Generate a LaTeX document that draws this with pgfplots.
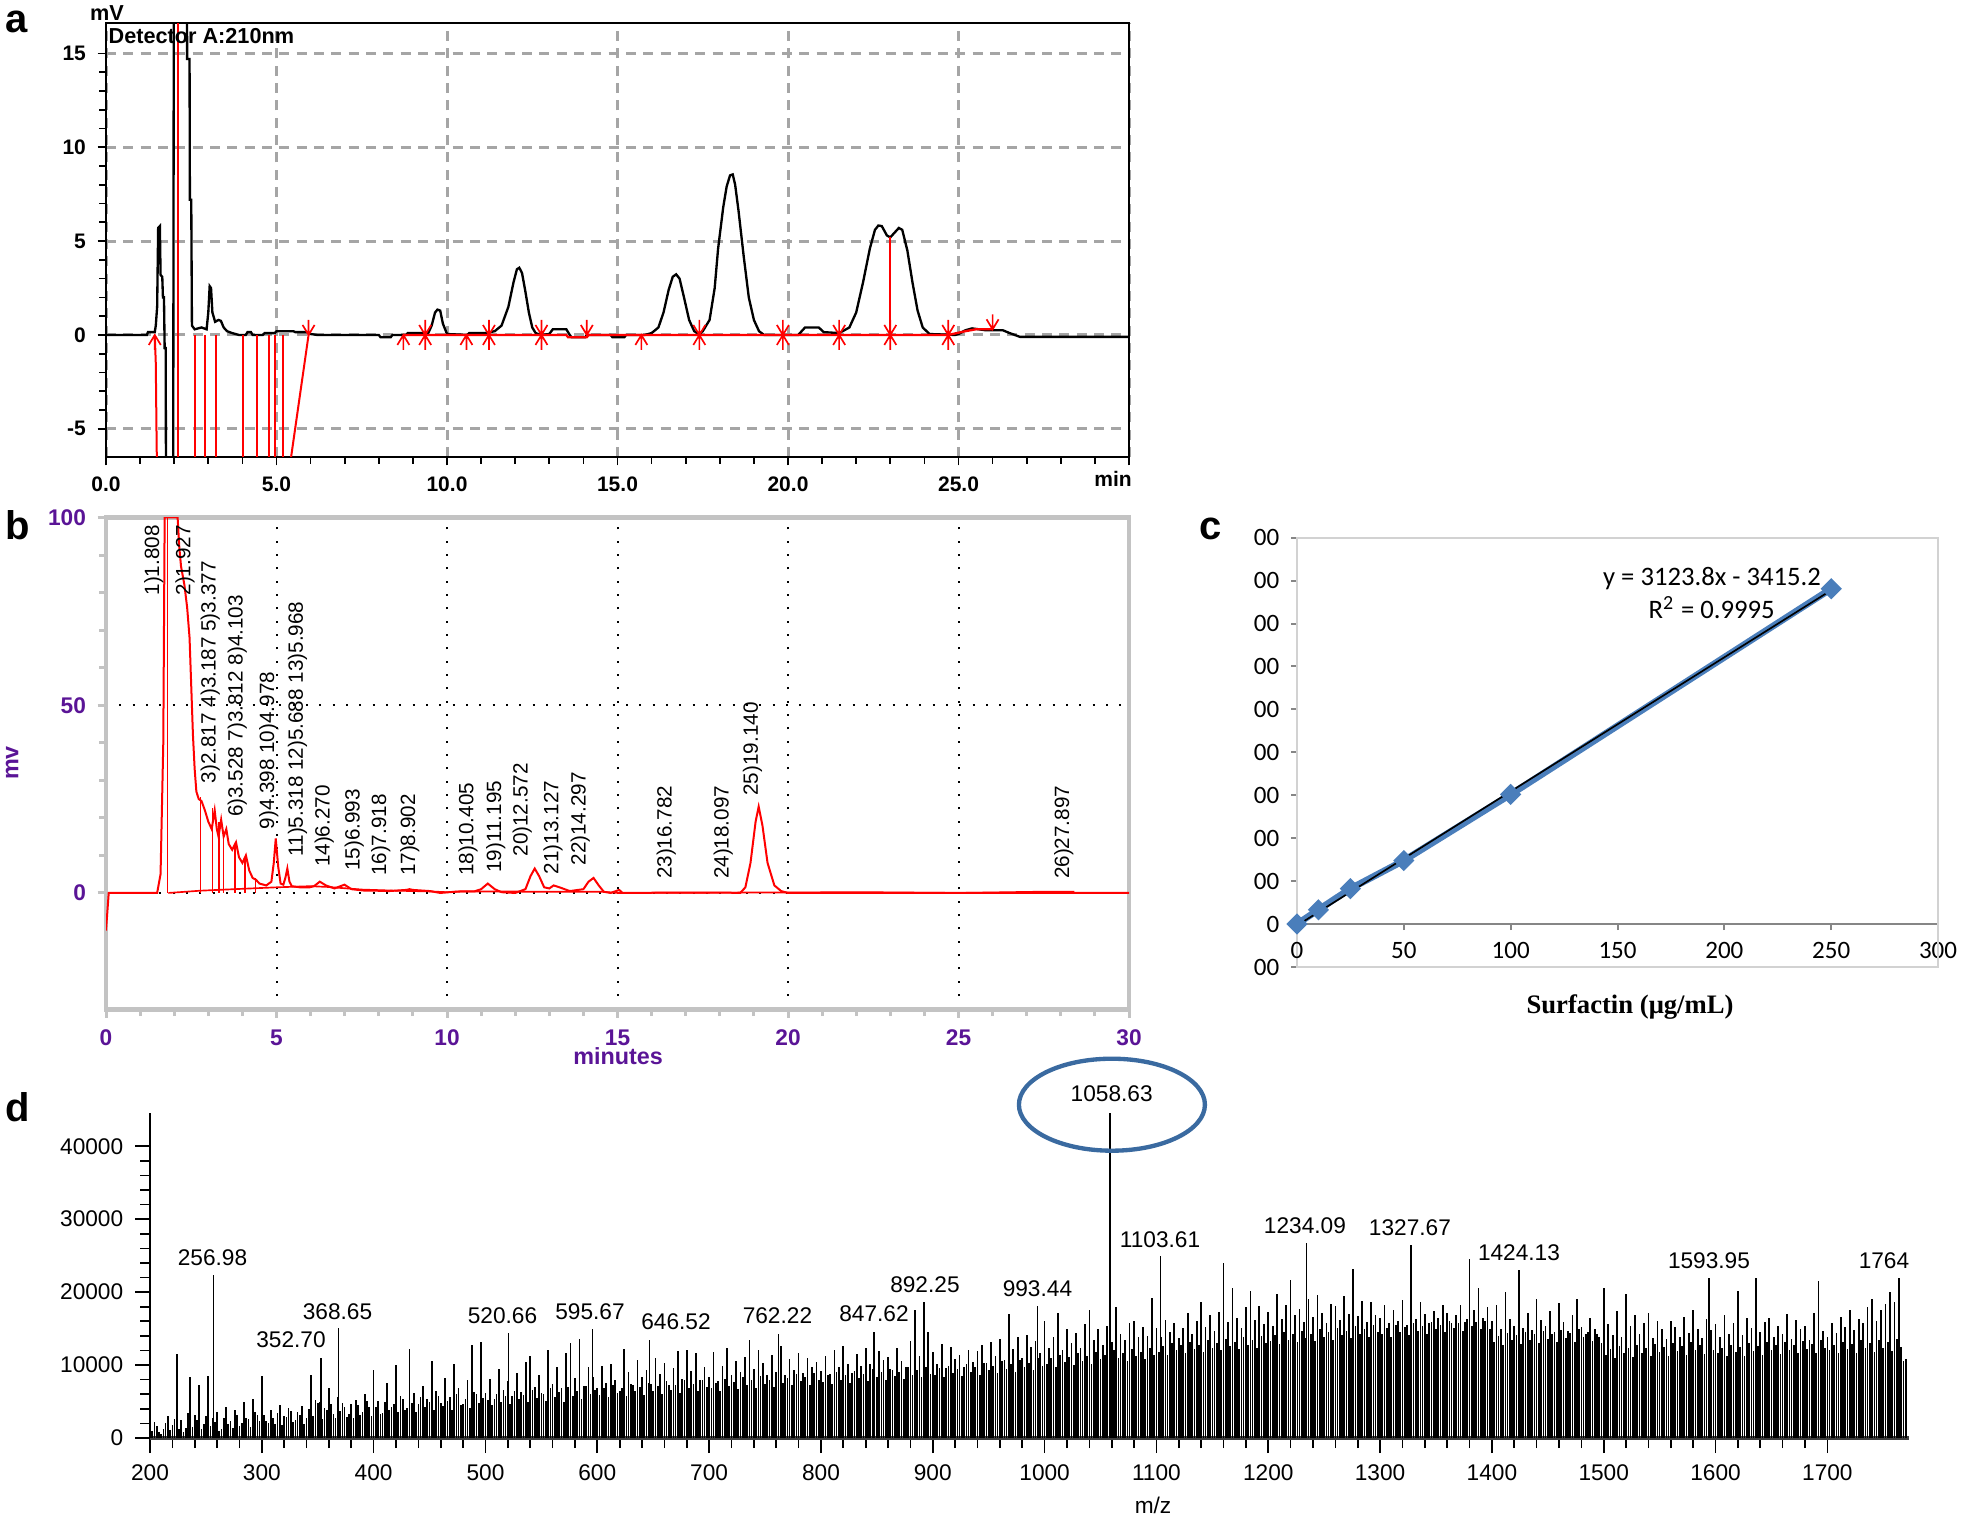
\documentclass[border=0pt]{standalone}
\usepackage{pgfplots}
\pgfplotsset{compat=1.18}
\usepackage{fontspec}
\setmainfont{Liberation Sans}
\newfontfamily\carlito{Carlito}
\newfontfamily\libserif{Liberation Serif}
\definecolor{bpurple}{RGB}{90,20,150}
\definecolor{cblue}{RGB}{74,126,187}
\definecolor{dellipse}{RGB}{58,106,160}
\definecolor{gridgray}{RGB}{165,165,165}
\definecolor{framegray}{RGB}{195,195,195}
\definecolor{axgray}{RGB}{134,134,134}
\definecolor{cframe}{RGB}{210,210,210}
\pgfdeclareplotmark{arrup}{%
  \pgfpathmoveto{\pgfpoint{0pt}{-4.5pt}}\pgfpathlineto{\pgfpoint{0pt}{0pt}}%
  \pgfpathmoveto{\pgfpoint{-1.8pt}{-3pt}}\pgfpathlineto{\pgfpoint{0pt}{0pt}}\pgfpathlineto{\pgfpoint{1.8pt}{-3pt}}%
  \pgfusepathqstroke}
\pgfdeclareplotmark{arrdn}{%
  \pgfpathmoveto{\pgfpoint{0pt}{4.5pt}}\pgfpathlineto{\pgfpoint{0pt}{0pt}}%
  \pgfpathmoveto{\pgfpoint{-1.8pt}{3pt}}\pgfpathlineto{\pgfpoint{0pt}{0pt}}\pgfpathlineto{\pgfpoint{1.8pt}{3pt}}%
  \pgfusepathqstroke}
\begin{document}
\begin{tikzpicture}[x=1pt,y=1pt]
\useasboundingbox (0,0) rectangle (588.3,455.4);

% ---------------- panel a ----------------
\begin{axis}[at={(31.8pt,318.3pt)}, anchor=south west, scale only axis,
 width=306.9pt, height=130.1pt,
 xmin=0, xmax=30, ymin=-6.5, ymax=16.6, clip mode=individual,
 axis line style={black, line width=0.7pt},
 xtick={0,5,...,30}, xticklabels={0.0,5.0,10.0,15.0,20.0,25.0,{}},
 ytick={-5,0,5,10,15}, yticklabels={-5,0,5,10,15},
 minor x tick num=4, minor y tick num=4,
 tick align=outside, xtick pos=bottom, ytick pos=left,
 major tick length=2.5pt, minor tick length=2pt,
 tick style={black, line width=0.5pt},
 xmajorgrids, ymajorgrids,
 major grid style={gridgray, line width=0.9pt, dash pattern=on 3pt off 2.2pt},
 ticklabel style={font=\fontsize{6.3}{7}\selectfont\bfseries},
]
\addplot[black, line width=0.7pt] coordinates {
(0,0)(1.2,0)(1.23,0.15)(1.43,0.15)(1.46,0.5)(1.5,1.5)(1.53,5.7)(1.58,5.8)(1.6,3.2)(1.65,3.1)
(1.67,2.0)(1.7,2.0)(1.72,-0.7)(1.75,-0.7)(1.76,-8)(1.97,-8)(1.99,20)(2.37,20)(2.38,14.7)(2.45,14.7)
(2.46,7.2)(2.5,7.2)(2.52,0.5)(2.6,0.3)(2.8,0.4)(2.95,0.3)(3.0,1.2)(3.04,2.6)(3.08,2.5)(3.12,1.2)
(3.2,0.7)(3.3,0.8)(3.37,0.75)(3.45,0.4)(3.55,0.2)(3.7,0.1)(3.9,0)(4.1,0)(4.15,0.15)(4.25,0.15)
(4.3,0)(4.6,0)(4.65,0.1)(4.95,0.1)(5.0,0.2)(5.5,0.2)(5.55,0.15)(5.9,0.15)(6.0,0.05)(6.2,0)
(8.0,0)(8.05,-0.12)(8.35,-0.12)(8.4,0)(8.8,0)(8.85,0.1)(9.45,0.1)(9.55,0.5)(9.65,1.2)(9.72,1.35)
(9.8,1.3)(9.88,0.6)(10.0,0.05)(10.6,0)(10.65,0.1)(11.1,0.1)(11.4,0.2)(11.6,0.5)(11.8,1.5)(11.95,2.8)
(12.05,3.5)(12.12,3.58)(12.2,3.3)(12.3,2.3)(12.4,1.2)(12.5,0.4)(12.6,0.1)(12.75,0)(13.0,0.05)(13.1,0.3)
(13.5,0.3)(13.6,0)(13.65,-0.12)(14.05,-0.12)(14.1,0)(14.8,0)(14.85,-0.12)(15.2,-0.12)(15.25,0)(15.8,0)
(16.0,0.1)(16.2,0.4)(16.35,1.2)(16.5,2.4)(16.62,3.1)(16.72,3.23)(16.82,3.0)(16.95,2.0)(17.1,0.8)(17.25,0.2)
(17.4,0.05)(17.5,0.2)(17.7,0.8)(17.85,2.5)(17.95,4.6)(18.1,6.8)(18.2,7.9)(18.3,8.5)(18.38,8.55)(18.45,8.0)
(18.55,6.6)(18.7,4.2)(18.85,2.0)(19.0,0.8)(19.15,0.2)(19.3,0)(20.3,0)(20.35,0.1)(20.5,0.4)(20.9,0.4)
(21.05,0.15)(21.5,0.1)(21.8,0.4)(22.0,1.2)(22.2,2.8)(22.4,4.6)(22.55,5.6)(22.65,5.83)(22.75,5.8)(22.9,5.3)
(23.0,5.2)(23.1,5.4)(23.25,5.7)(23.35,5.6)(23.5,4.5)(23.65,2.8)(23.8,1.3)(23.95,0.4)(24.15,0.05)(24.9,0)
(25.0,0.05)(25.2,0.25)(25.4,0.35)(25.6,0.3)(25.8,0.25)(26.3,0.25)(26.5,0.1)(26.8,-0.1)(30,-0.1)};
\addplot[red, line width=0.7pt] coordinates {(8.72,0)(13.5,0)(13.55,-0.12)(14.1,-0.12)(14.15,0)(24.7,0)(25.2,0.2)(25.5,0.3)(26.0,0.3)};
\addplot[red, line width=0.6pt, ycomb] coordinates {(2.1,20)(23.0,5.2)};
\addplot[red, line width=0.6pt, ycomb] coordinates {(2.1,-8)(2.6,-8)(2.9,-8)(3.22,-8)(4.03,-8)(4.44,-8)(4.78,-8)(4.95,-8)(5.2,-8)};
\addplot[red, line width=0.6pt] coordinates {(1.43,0)(1.46,-1.5)(1.48,-5)(1.5,-8)};
\addplot[red, line width=0.6pt] coordinates {(5.31,-8)(5.94,0)};
\addplot[red, only marks, mark=arrup, line width=0.5pt] coordinates {(1.43,0)(8.72,0)(9.36,0)(10.57,0)(11.23,0)(12.77,0)(15.7,0)(17.4,0)(19.85,0)(21.5,0)(23.0,0)(24.7,0)};
\addplot[red, only marks, mark=arrdn, line width=0.5pt] coordinates {(5.94,0)(9.36,0)(11.23,0)(12.77,0)(14.1,0)(17.4,0)(19.85,0)(21.5,0)(23.0,0)(24.7,0)(26.0,0.3)};
\end{axis}
\node[anchor=west, font=\fontsize{6.5}{7}\selectfont\bfseries, inner sep=0pt] at (32.4,444.6) {Detector A:210nm};
\node[font=\fontsize{6.5}{7}\selectfont\bfseries] at (32.1,451.5) {mV};
\node[font=\fontsize{6.3}{7}\selectfont\bfseries] at (333.9,311.7) {min};

% ---------------- panel b ----------------
\begin{axis}[at={(31.8pt,152.6pt)}, anchor=south west, scale only axis,
 width=306.9pt, height=147.55pt,
 xmin=0, xmax=30, ymin=-31, ymax=100, clip mode=individual,
 axis line style={framegray, line width=1.3pt},
 xtick={0,5,...,30}, xticklabels={0,5,10,15,20,25,30}, minor x tick num=4,
 ytick={0,50,100}, yticklabels={0,50,100}, minor y tick num=4,
 tick align=outside, xtick pos=bottom, ytick pos=left,
 tick style={framegray, line width=0.9pt}, major tick length=2.5pt, minor tick length=2pt,
 xmajorgrids, ymajorgrids,
 major grid style={black, line width=0.6pt, dash pattern=on 0.6pt off 3.4pt},
 ticklabel style={font=\fontsize{6.8}{8}\selectfont\bfseries, text=bpurple},
]
\addplot[red, line width=0.6pt] coordinates {
(0,-10)(0.08,0)(1.5,0)(1.6,5)(1.68,40)(1.72,100)(2.1,100)(2.15,92)(2.2,87)(2.3,82)
(2.38,76)(2.45,68)(2.5,55)(2.55,42)(2.6,33)(2.65,27)(2.72,25)(2.8,24.5)(2.9,22)(3.0,19)
(3.1,17)(3.187,22)(3.25,17)(3.3,15)(3.377,19.5)(3.45,15)(3.528,17)(3.6,13)(3.7,11.5)(3.812,13.5)
(3.9,9.5)(4.0,8)(4.103,10)(4.2,6)(4.3,4)(4.398,3.5)(4.5,2.5)(4.7,2)(4.85,3)(4.92,8)
(4.978,14.5)(5.05,7)(5.12,2.5)(5.2,2.2)(5.26,4)(5.318,6.5)(5.38,3)(5.45,1.8)(5.688,1.5)(5.968,1.5)
(6.1,1.8)(6.27,3)(6.45,2)(6.7,1.2)(6.993,2.2)(7.2,1.0)(7.6,0.6)(7.918,0.6)(8.3,0.5)(8.8,0.8)
(8.902,1.0)(9.0,0.8)(9.5,0.5)(9.8,0)(10.2,0.3)(10.405,0.4)(10.8,0.4)(11.0,1.0)(11.195,2.5)(11.4,1.0)
(11.6,0.2)(12.0,0)(12.3,1)(12.45,4.5)(12.572,6.5)(12.7,4.5)(12.85,1.5)(13.0,1.2)(13.127,2)(13.3,1.5)
(13.6,0.5)(14.0,1)(14.15,3)(14.297,4)(14.45,2)(14.6,0.3)(14.8,0)(15.05,0.8)(15.15,0)(16.782,0.1)
(18.097,0.1)(18.6,0)(18.75,1.5)(18.9,8)(19.05,19)(19.14,23)(19.25,18)(19.4,8)(19.6,2)(19.8,0.5)
(20,0)(30,0)};
\addplot[red, line width=0.5pt] coordinates {(1.83,0)(2.3,0.3)(2.77,0.6)(3.5,0.9)(4.5,1.3)(5.0,1.5)(6.0,1.8)(6.5,1.6)(7.5,0.9)(8.5,0.6)(9.5,0.4)(10.0,0.2)(10.4,0.4)(12.0,0.4)(12.3,0.3)(14.6,0.3)(15.0,0)(22.3,0.2)(25,0)(27.2,0.3)(28.4,0.3)};
\addplot[red, line width=0.5pt, ycomb] coordinates {(1.808,100)(2.77,25.5)(3.12,22.5)(3.31,19)(3.45,16)(3.78,12.5)(4.07,9.4)(4.38,4)};
\begin{scope}[every node/.style={rotate=90, anchor=west, font=\fontsize{6.2}{7}\selectfont, inner sep=0.3pt}]
\node at (axis cs:1.40,78.8) {1)1.808};
\node at (axis cs:2.32,78.8) {2)1.927};
\node at (axis cs:3.06,28.8) {3)2.817 4)3.187 5)3.377};
\node at (axis cs:3.85,19.8) {6)3.528 7)3.812 8)4.103};
\node at (axis cs:4.77,16.5) {9)4.398 10)4.978};
\node at (axis cs:5.62,9.3) {11)5.318 12)5.688 13)5.968};
\node at (axis cs:6.40,6.5) {14)6.270};
\node at (axis cs:7.28,5.5) {15)6.993};
\node at (axis cs:8.06,4.1) {16)7.918};
\node at (axis cs:8.91,4.1) {17)8.902};
\node at (axis cs:10.62,4.1) {18)10.405};
\node at (axis cs:11.43,5.0) {19)11.195};
\node at (axis cs:12.21,9.3) {20)12.572};
\node at (axis cs:13.11,4.6) {21)13.127};
\node at (axis cs:13.91,6.9) {22)14.297};
\node at (axis cs:16.43,3.3) {23)16.782};
\node at (axis cs:18.10,3.3) {24)18.097};
\node at (axis cs:18.96,25.5) {25)19.140};
\node at (axis cs:28.09,3.3) {26)27.897};
\end{scope}
\end{axis}
\node[rotate=90, font=\fontsize{7}{8}\selectfont\bfseries, text=bpurple] at (3.6,226.5) {mv};
\node[font=\fontsize{7}{8}\selectfont\bfseries, text=bpurple] at (185.4,138.6) {minutes};

% ---------------- panel c ----------------
\begin{axis}[at={(389.1pt,165.3pt)}, anchor=south west, scale only axis,
 width=192.3pt, height=128.8pt,
 xmin=0, xmax=300, ymin=-100000, ymax=900000, clip=false,
 axis x line=middle, axis y line=left,
 axis line style={-, axgray, line width=0.6pt},
 xtick={0,50,...,300}, xticklabels={0,50,100,150,200,250,300},
 ytick={-100000,0,100000,200000,300000,400000,500000,600000,700000,800000,900000},
 yticklabels={00,0,00,00,00,00,00,00,00,00,00},
 scaled ticks=false,
 tick align=outside, major tick length=1.8pt, tick style={axgray, line width=0.6pt},
 ticklabel style={font=\carlito\fontsize{7.5}{9}\selectfont},
]
\draw[cframe, line width=0.6pt] (rel axis cs:0,0) rectangle (rel axis cs:1,1);
\addplot[cblue, line width=2pt, mark=square*, mark size=2pt, mark options={rotate=45, fill=cblue, draw=cblue, line width=0.5pt}] coordinates {(0,0)(10,33300)(25,82500)(50,148000)(100,302000)(250,781000)};
\addplot[black, line width=0.5pt] coordinates {(0,-3415.2)(250,777534.8)};
\node[font=\carlito\fontsize{7.5}{9}\selectfont, yshift=-7.9pt] at (axis cs:0,0) {0};
\end{axis}
\node[font=\carlito\fontsize{8}{9}\selectfont] at (513.6,281.9) {y = 3123.8x - 3415.2};
\node[font=\carlito\fontsize{8}{9}\selectfont] at (513.5,273.2) {R\textsuperscript{2} = 0.9995};
\node[font=\libserif\bfseries\fontsize{8}{9}\selectfont] at (489,153.3) {Surfactin (μg/mL)};

% ---------------- panel d ----------------
\begin{axis}[at={(45pt,24pt)}, anchor=south west, scale only axis,
 width=527.7pt, height=97.6pt,
 xmin=200, xmax=1773, ymin=0, ymax=44600, clip mode=individual,
 axis x line=bottom, axis y line=left,
 axis line style={-, black, line width=0.6pt},
 x axis line style={line width=1pt, draw=black!75},
 xtick={200,300,...,1700}, xticklabels={200,300,400,500,600,700,800,900,1000,1100,1200,1300,1400,1500,1600,1700},
 minor x tick num=4,
 ytick={0,10000,20000,30000,40000}, yticklabels={0,10000,20000,30000,40000}, minor y tick num=4,
 scaled ticks=false,
 tick align=outside, major tick length=4.5pt, minor tick length=3pt,
 tick style={black, line width=0.5pt},
 ticklabel style={font=\fontsize{6.8}{8}\selectfont},
]
\addplot[black, line width=0.5pt, ycomb] coordinates {
(200,1500)(204,2200)(208,800)(212,1200)(216,3000)(220,1800)(224,11500)(228,2500)(232,1400)(236,8300)
(240,3200)(244,7200)(248,1900)(252,8500)(256,2800)(260,3600)(264,1300)(268,4200)(272,2300)(276,3900)
(280,1700)(284,5000)(288,2600)(292,5300)(296,3100)
(300,8500)(304,2400)(308,3800)(312,1900)(316,4500)(320,3000)(324,4100)(328,2200)(332,3600)(336,4400)
(340,2700)(344,8700)(348,5200)(352,5000)(356,4100)(360,6800)(364,3300)(368,5600)(372,4800)(376,2900)
(380,4600)(384,5200)(388,3100)(392,6000)(396,4200)
(400,9300)(404,5100)(408,3400)(412,7600)(416,4300)(420,10000)(424,5800)(428,3900)(432,12200)(436,6200)
(440,4600)(444,7100)(448,5300)(452,10500)(456,6400)(460,4800)(464,8200)(468,5600)(472,10200)(476,6900)
(480,4700)(484,7900)(488,12800)(492,6100)(496,13100)
(500,6200)(504,8100)(508,5300)(512,9400)(516,6600)(520,7800)(524,5700)(528,8900)(532,6300)(536,10400)
(540,11200)(544,7000)(548,8600)(552,6100)(556,12100)(560,7400)(564,9800)(568,6800)(572,11700)(576,13000)
(580,8200)(584,13600)(588,7100)(592,9700)(596,8400)
(600,6900)(604,9900)(608,7600)(612,10100)(616,8000)(620,6500)(624,12200)(628,9100)(632,7200)(636,10700)
(640,8300)(644,9300)(648,7400)(652,11000)(656,8800)(660,10300)(664,7300)(668,9600)(672,11900)(676,8100)
(680,12100)(684,9200)(688,11600)(692,7900)(696,9800)
(700,8300)(704,11800)(708,7800)(712,9900)(716,12300)(720,8600)(724,10600)(728,9000)(732,11100)(736,13500)
(740,9400)(744,12100)(748,10300)(752,8700)(756,11400)(760,9100)(764,12600)(768,8600)(772,10800)(776,9300)
(780,11700)(784,8900)(788,11000)(792,9700)(796,10400)
(800,9200)(804,11300)(808,8800)(812,12000)(816,9700)(820,12600)(824,10100)(828,8900)(832,11500)(836,9900)
(840,12300)(844,10200)(848,9500)(852,11900)(856,10700)(860,11100)(864,9300)(868,12400)(872,10500)(876,9800)
(880,13300)(884,17600)(888,11200)(896,14500)
(900,11800)(904,10100)(908,12900)(912,9600)(916,12500)(920,10800)(924,11400)(928,9700)(932,12100)(936,10400)
(940,11900)(944,12800)(948,10300)(952,13100)(956,11200)(960,13600)(964,10700)(968,17000)(972,12200)(976,13900)
(980,11000)(984,14100)(988,12500)(992,13300)(996,11600)
(1000,16100)(1004,12400)(1008,13800)(1012,17100)(1016,12000)(1020,15000)(1024,13000)(1028,14400)(1032,12300)(1036,15600)
(1040,17600)(1044,13500)(1048,14900)(1052,12700)(1056,15300)(1060,13100)(1064,18000)(1068,14200)(1072,13400)(1076,15800)
(1080,16100)(1084,13800)(1088,15200)(1092,14000)(1096,19200)
(1100,15100)(1104,13900)(1108,16200)(1112,14600)(1116,15800)(1120,13700)(1124,15100)(1128,17200)(1132,14300)(1136,16000)
(1140,18600)(1144,15200)(1148,16800)(1152,14700)(1156,17300)(1160,24000)(1164,15900)(1168,20600)(1172,16400)(1176,15100)
(1180,17900)(1184,20100)(1188,16200)(1192,18100)(1196,15600)
(1200,17300)(1204,15400)(1208,19800)(1212,16300)(1216,18200)(1220,21600)(1224,16800)(1228,17700)(1232,15900)(1236,19100)
(1240,16600)(1244,19600)(1248,17100)(1252,15800)(1256,18400)(1260,18100)(1264,16200)(1268,19500)(1272,17000)(1276,23200)
(1280,16700)(1284,18800)(1288,15900)(1292,18600)(1296,16900)
(1300,16400)(1304,18300)(1308,15700)(1312,17600)(1316,16100)(1320,18900)(1324,15500)(1328,17200)(1332,16300)(1336,18600)
(1340,17000)(1344,15800)(1348,17400)(1352,16400)(1356,18200)(1360,17100)(1364,15700)(1368,16900)(1372,18300)(1376,15900)
(1380,24600)(1384,17600)(1388,20500)(1392,16400)(1396,17900)
(1400,16100)(1404,18200)(1408,14900)(1412,20000)(1416,16300)(1420,15400)(1424,17800)(1428,15100)(1432,17100)(1436,14800)
(1440,19000)(1444,16200)(1448,15300)(1452,17400)(1456,14600)(1460,18500)(1464,15900)(1468,14700)(1472,16800)(1476,19000)
(1480,15200)(1484,14300)(1488,16500)(1492,15000)(1496,13900)
(1500,20600)(1504,15600)(1508,14100)(1512,17400)(1516,13800)(1520,19800)(1524,15300)(1528,16900)(1532,14200)(1536,15800)
(1540,17100)(1544,13700)(1548,16100)(1552,14900)(1556,13600)(1560,16000)(1564,15200)(1568,13900)(1572,16600)(1576,14400)
(1580,17500)(1584,15000)(1588,13700)(1592,16300)(1596,14800)
(1600,15600)(1604,13900)(1608,16800)(1612,14300)(1616,15700)(1620,20200)(1624,14100)(1628,16400)(1632,15100)(1636,22000)
(1640,14600)(1644,15900)(1648,16500)(1652,13800)(1656,15400)(1660,14200)(1664,17000)(1668,13600)(1672,16200)(1676,14900)
(1680,15300)(1684,13500)(1688,17200)(1692,21500)(1696,14700)
(1700,13900)(1704,15800)(1708,14400)(1712,16600)(1716,15200)(1720,17500)(1724,14800)(1728,16300)(1732,15700)(1736,17900)
(1740,19000)(1744,16100)(1748,17600)(1752,18400)(1756,20000)(1760,18700)(1764,17200)(1768,10500)};
\addplot[black, line width=0.5pt, ycomb] coordinates {
(202,900)(206,1600)(210,600)(214,2100)(218,1100)(222,2600)(226,1300)(230,800)(234,3400)(238,1500)
(242,2500)(246,1200)(250,3000)(254,1700)(258,2200)(262,1000)(266,2800)(270,1900)(274,1400)(278,3200)
(282,2000)(286,2700)(290,1500)(294,3600)(298,2300)
(302,3100)(306,2000)(310,2700)(314,3400)(318,1800)(322,2900)(326,3700)(330,2500)(334,3100)(338,1900)
(342,4000)(346,3000)(350,4800)(354,2600)(358,3900)(362,4600)(366,2800)(370,3700)(374,4200)(378,3300)
(382,2700)(386,4500)(390,3600)(394,5100)(398,3000)
(402,4200)(406,3300)(410,5000)(414,3800)(418,4600)(422,3500)(426,5300)(430,4100)(434,4800)(438,3600)
(442,5600)(446,4200)(450,4900)(454,3900)(458,5700)(462,4400)(466,5100)(470,3800)(474,6000)(478,4500)
(482,5400)(486,4100)(490,6300)(494,4800)(498,5500)
(502,5200)(506,4500)(510,6100)(514,5000)(518,5800)(522,4700)(526,6400)(530,5300)(534,5900)(538,4900)
(542,6600)(546,5500)(550,6200)(554,5100)(558,6800)(562,5600)(566,6300)(570,5000)(574,7000)(578,5800)
(582,6500)(586,5300)(590,7100)(594,6000)(598,6600)
(602,5900)(606,6900)(610,5600)(614,7300)(618,6200)(622,6800)(626,5700)(630,7400)(634,6400)(638,7000)
(642,5900)(646,7600)(650,6500)(654,7100)(658,6000)(662,7800)(666,6600)(670,7200)(674,6200)(678,7900)
(682,6800)(686,7400)(690,6400)(694,8000)(698,7000)
(702,6800)(706,7600)(710,6500)(714,8100)(718,7100)(722,7700)(726,6700)(730,8300)(734,7300)(738,7900)
(742,6900)(746,8500)(750,7400)(754,8000)(758,7000)(762,8600)(766,7600)(770,8200)(774,7200)(778,8800)
(782,7800)(786,8300)(790,7300)(794,8900)(798,7900)
(802,7700)(806,8600)(810,7400)(814,9000)(818,8000)(822,8700)(826,7600)(830,9200)(834,8200)(838,8800)
(842,7800)(846,9400)(850,8400)(854,9000)(858,7900)(862,9500)(866,8500)(870,9100)(874,8100)(878,9700)
(882,8700)(886,9300)(890,8300)(894,9800)(898,8800)
(902,8600)(906,9600)(910,8300)(914,9900)(918,8900)(922,9500)(926,8500)(930,10100)(934,9100)(938,9700)
(942,8700)(946,10300)(950,9300)(954,9900)(958,8900)(962,10500)(966,9500)(970,10100)(974,9100)(978,10700)
(982,9700)(986,10300)(990,9300)(994,10900)(998,9900)
(1002,10200)(1006,11000)(1010,9800)(1014,11400)(1018,10400)(1022,11100)(1026,10000)(1030,11600)(1034,10600)(1038,11200)
(1042,10200)(1046,11800)(1050,10800)(1054,11400)(1058,10400)(1062,12000)(1066,11000)(1070,11600)(1074,10600)(1078,12200)
(1082,11200)(1086,11800)(1090,10800)(1094,12400)(1098,11400)
(1102,11800)(1106,12600)(1110,11400)(1114,13000)(1118,12000)(1122,12700)(1126,11600)(1130,13200)(1134,12200)(1138,12800)
(1142,11800)(1146,13400)(1150,12400)(1154,13000)(1158,12000)(1162,13600)(1166,12600)(1170,13200)(1174,12200)(1178,13800)
(1182,12800)(1186,13400)(1190,12400)(1194,14000)(1198,13000)
(1202,13300)(1206,14100)(1210,12900)(1214,14500)(1218,13500)(1222,14200)(1226,13100)(1230,14700)(1234,13700)(1238,14300)
(1242,13300)(1246,14900)(1250,13900)(1254,14500)(1258,13500)(1262,15100)(1266,14100)(1270,14700)(1274,13700)(1278,15300)
(1282,14300)(1286,14900)(1290,13900)(1294,15500)(1298,14500)
(1302,14300)(1306,15100)(1310,13900)(1314,15500)(1318,14500)(1322,15200)(1326,14100)(1330,15700)(1334,14700)(1338,15300)
(1342,14300)(1346,15900)(1350,14900)(1354,15500)(1358,14500)(1362,16100)(1366,15100)(1370,15700)(1374,14700)(1378,16300)
(1382,15300)(1386,15900)(1390,14900)(1394,16000)(1398,15000)
(1402,13200)(1406,14000)(1410,12800)(1414,14400)(1418,13400)(1422,14100)(1426,12900)(1430,14600)(1434,13500)(1438,14200)
(1442,13000)(1446,14700)(1450,13600)(1454,14300)(1458,13100)(1462,14800)(1466,13700)(1470,14400)(1474,13200)(1478,14900)
(1482,13800)(1486,14500)(1490,13300)(1494,14200)(1498,13000)
(1502,11400)(1506,12200)(1510,11000)(1514,12600)(1518,11600)(1522,12300)(1526,11100)(1530,12800)(1534,11700)(1538,12400)
(1542,11200)(1546,12900)(1550,11800)(1554,12500)(1558,11300)(1562,13000)(1566,11900)(1570,12600)(1574,11400)(1578,13100)
(1582,12000)(1586,12700)(1590,11500)(1594,13200)(1598,12100)
(1602,11600)(1606,12400)(1610,11200)(1614,12800)(1618,11800)(1622,12500)(1626,11300)(1630,13000)(1634,11900)(1638,12600)
(1642,11400)(1646,13100)(1650,12000)(1654,12700)(1658,11500)(1662,13200)(1666,12100)(1670,12800)(1674,11600)(1678,13300)
(1682,12200)(1686,12900)(1690,11700)(1694,13400)(1698,12300)
(1702,12000)(1706,12800)(1710,11600)(1714,13200)(1718,12200)(1722,12900)(1726,11700)(1730,13400)(1734,12300)(1738,13000)
(1742,11800)(1746,13500)(1750,12400)(1754,13100)(1758,11900)(1762,13600)(1766,12500)(1770,10800)};
\addplot[black, line width=0.45pt, ycomb] coordinates {(256.98,22300)(352.70,11000)(368.65,15100)(520.66,14400)(595.67,14900)(646.52,13500)(762.22,14300)(847.62,14500)(892.25,18600)(993.44,18100)(1058.63,44600)(1103.61,25000)(1234.09,26800)(1327.67,26400)(1424.13,23000)(1593.95,22000)(1764,22000)};
\draw[dellipse, line width=1.3pt] (axis cs:1060.2,45690) ellipse [x radius=27.9pt, y radius=13.8pt];
\begin{scope}[every node/.style={font=\fontsize{6.8}{8}\selectfont, inner sep=0pt}]
\node at (axis cs:255.9,24690) {256.98};
\node at (axis cs:326.1,13540) {352.70};
\node at (axis cs:367.7,17370) {368.65};
\node at (axis cs:515.2,16830) {520.66};
\node at (axis cs:593.5,17370) {595.67};
\node at (axis cs:670.4,15940) {646.52};
\node at (axis cs:761.1,16830) {762.22};
\node at (axis cs:847.4,17100) {847.62};
\node at (axis cs:893,21070) {892.25};
\node at (axis cs:993.6,20520) {993.44};
\node at (axis cs:1060,47150) {1058.63};
\node at (axis cs:1103.2,27220) {1103.61};
\node at (axis cs:1232.8,29140) {1234.09};
\node at (axis cs:1326.7,28800) {1327.67};
\node at (axis cs:1424.2,25380) {1424.13};
\node at (axis cs:1594.1,24280) {1593.95};
\node at (axis cs:1750.6,24280) {1764};
\end{scope}
\end{axis}
\node[font=\fontsize{6.8}{8}\selectfont] at (345.9,3.8) {m/z};

% panel letters
\node[font=\fontsize{12}{13}\selectfont\bfseries] at (4.9,448.9) {a};
\node[font=\fontsize{12}{13}\selectfont\bfseries] at (5.4,297.8) {b};
\node[font=\fontsize{12}{13}\selectfont\bfseries] at (363.3,296.7) {c};
\node[font=\fontsize{12}{13}\selectfont\bfseries] at (5.4,123.3) {d};
\end{tikzpicture}
\end{document}
